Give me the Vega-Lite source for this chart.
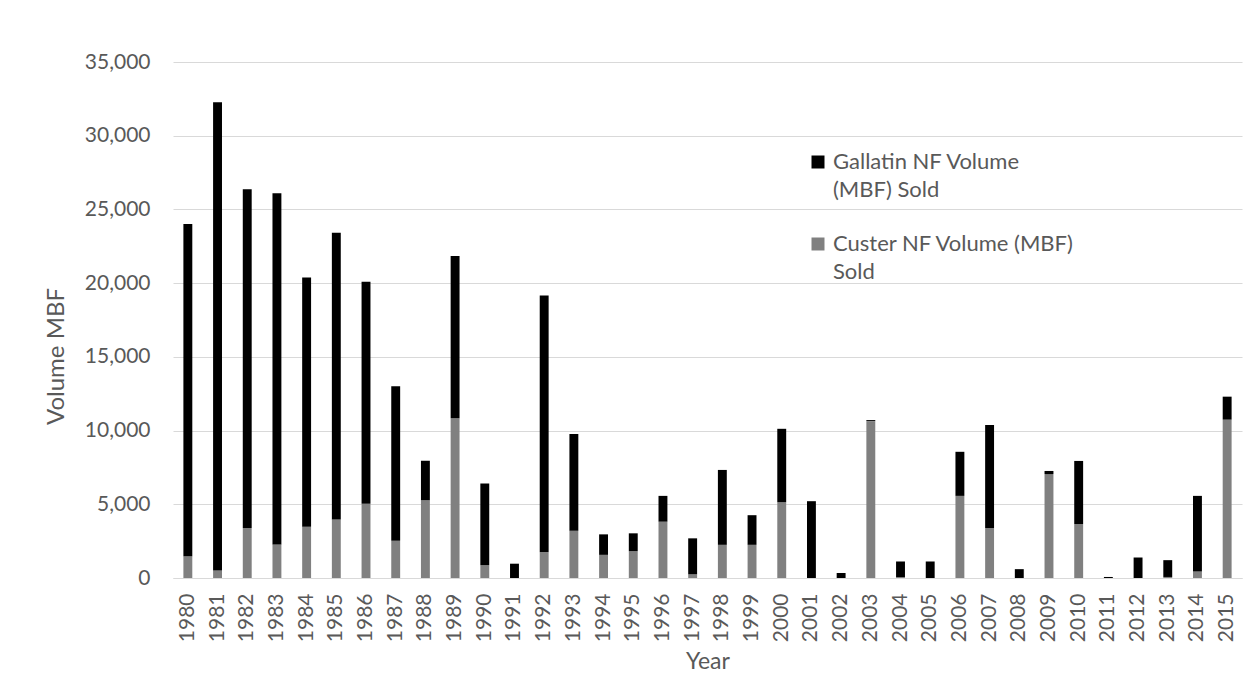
{
  "$schema": "https://vega.github.io/schema/vega-lite/v6.json",
  "autosize": "none",
  "width": 1069,
  "height": 516,
  "padding": {"left": 173, "top": 62, "right": 10, "bottom": 103},
  "background": "white",
  "config": {
    "view": {"stroke": null},
    "font": "Lato",
    "style": {"guide-label": {"lineHeight": 28}}
  },
  "data": {"values": [
    {"year": "1980", "series": "Custer NF Volume (MBF) Sold", "value": 1480},
    {"year": "1980", "series": "Gallatin NF Volume (MBF) Sold", "value": 22540},
    {"year": "1981", "series": "Custer NF Volume (MBF) Sold", "value": 510},
    {"year": "1981", "series": "Gallatin NF Volume (MBF) Sold", "value": 31760},
    {"year": "1982", "series": "Custer NF Volume (MBF) Sold", "value": 3390},
    {"year": "1982", "series": "Gallatin NF Volume (MBF) Sold", "value": 22980},
    {"year": "1983", "series": "Custer NF Volume (MBF) Sold", "value": 2280},
    {"year": "1983", "series": "Gallatin NF Volume (MBF) Sold", "value": 23820},
    {"year": "1984", "series": "Custer NF Volume (MBF) Sold", "value": 3480},
    {"year": "1984", "series": "Gallatin NF Volume (MBF) Sold", "value": 16910},
    {"year": "1985", "series": "Custer NF Volume (MBF) Sold", "value": 3970},
    {"year": "1985", "series": "Gallatin NF Volume (MBF) Sold", "value": 19440},
    {"year": "1986", "series": "Custer NF Volume (MBF) Sold", "value": 5030},
    {"year": "1986", "series": "Gallatin NF Volume (MBF) Sold", "value": 15070},
    {"year": "1987", "series": "Custer NF Volume (MBF) Sold", "value": 2520},
    {"year": "1987", "series": "Gallatin NF Volume (MBF) Sold", "value": 10490},
    {"year": "1988", "series": "Custer NF Volume (MBF) Sold", "value": 5270},
    {"year": "1988", "series": "Gallatin NF Volume (MBF) Sold", "value": 2690},
    {"year": "1989", "series": "Custer NF Volume (MBF) Sold", "value": 10840},
    {"year": "1989", "series": "Gallatin NF Volume (MBF) Sold", "value": 11000},
    {"year": "1990", "series": "Custer NF Volume (MBF) Sold", "value": 870},
    {"year": "1990", "series": "Gallatin NF Volume (MBF) Sold", "value": 5540},
    {"year": "1991", "series": "Custer NF Volume (MBF) Sold", "value": 0},
    {"year": "1991", "series": "Gallatin NF Volume (MBF) Sold", "value": 970},
    {"year": "1992", "series": "Custer NF Volume (MBF) Sold", "value": 1740},
    {"year": "1992", "series": "Gallatin NF Volume (MBF) Sold", "value": 17420},
    {"year": "1993", "series": "Custer NF Volume (MBF) Sold", "value": 3210},
    {"year": "1993", "series": "Gallatin NF Volume (MBF) Sold", "value": 6550},
    {"year": "1994", "series": "Custer NF Volume (MBF) Sold", "value": 1570},
    {"year": "1994", "series": "Gallatin NF Volume (MBF) Sold", "value": 1390},
    {"year": "1995", "series": "Custer NF Volume (MBF) Sold", "value": 1820},
    {"year": "1995", "series": "Gallatin NF Volume (MBF) Sold", "value": 1210},
    {"year": "1996", "series": "Custer NF Volume (MBF) Sold", "value": 3820},
    {"year": "1996", "series": "Gallatin NF Volume (MBF) Sold", "value": 1750},
    {"year": "1997", "series": "Custer NF Volume (MBF) Sold", "value": 250},
    {"year": "1997", "series": "Gallatin NF Volume (MBF) Sold", "value": 2440},
    {"year": "1998", "series": "Custer NF Volume (MBF) Sold", "value": 2250},
    {"year": "1998", "series": "Gallatin NF Volume (MBF) Sold", "value": 5080},
    {"year": "1999", "series": "Custer NF Volume (MBF) Sold", "value": 2250},
    {"year": "1999", "series": "Gallatin NF Volume (MBF) Sold", "value": 2010},
    {"year": "2000", "series": "Custer NF Volume (MBF) Sold", "value": 5140},
    {"year": "2000", "series": "Gallatin NF Volume (MBF) Sold", "value": 4980},
    {"year": "2001", "series": "Custer NF Volume (MBF) Sold", "value": 0},
    {"year": "2001", "series": "Gallatin NF Volume (MBF) Sold", "value": 5210},
    {"year": "2002", "series": "Custer NF Volume (MBF) Sold", "value": 0},
    {"year": "2002", "series": "Gallatin NF Volume (MBF) Sold", "value": 340},
    {"year": "2003", "series": "Custer NF Volume (MBF) Sold", "value": 10640},
    {"year": "2003", "series": "Gallatin NF Volume (MBF) Sold", "value": 70},
    {"year": "2004", "series": "Custer NF Volume (MBF) Sold", "value": 60},
    {"year": "2004", "series": "Gallatin NF Volume (MBF) Sold", "value": 1060},
    {"year": "2005", "series": "Custer NF Volume (MBF) Sold", "value": 0},
    {"year": "2005", "series": "Gallatin NF Volume (MBF) Sold", "value": 1120},
    {"year": "2006", "series": "Custer NF Volume (MBF) Sold", "value": 5570},
    {"year": "2006", "series": "Gallatin NF Volume (MBF) Sold", "value": 2990},
    {"year": "2007", "series": "Custer NF Volume (MBF) Sold", "value": 3390},
    {"year": "2007", "series": "Gallatin NF Volume (MBF) Sold", "value": 6980},
    {"year": "2008", "series": "Custer NF Volume (MBF) Sold", "value": 0},
    {"year": "2008", "series": "Gallatin NF Volume (MBF) Sold", "value": 600},
    {"year": "2009", "series": "Custer NF Volume (MBF) Sold", "value": 7050},
    {"year": "2009", "series": "Gallatin NF Volume (MBF) Sold", "value": 210},
    {"year": "2010", "series": "Custer NF Volume (MBF) Sold", "value": 3660},
    {"year": "2010", "series": "Gallatin NF Volume (MBF) Sold", "value": 4280},
    {"year": "2011", "series": "Custer NF Volume (MBF) Sold", "value": 0},
    {"year": "2011", "series": "Gallatin NF Volume (MBF) Sold", "value": 70},
    {"year": "2012", "series": "Custer NF Volume (MBF) Sold", "value": 0},
    {"year": "2012", "series": "Gallatin NF Volume (MBF) Sold", "value": 1390},
    {"year": "2013", "series": "Custer NF Volume (MBF) Sold", "value": 70},
    {"year": "2013", "series": "Gallatin NF Volume (MBF) Sold", "value": 1140},
    {"year": "2014", "series": "Custer NF Volume (MBF) Sold", "value": 440},
    {"year": "2014", "series": "Gallatin NF Volume (MBF) Sold", "value": 5130},
    {"year": "2015", "series": "Custer NF Volume (MBF) Sold", "value": 10740},
    {"year": "2015", "series": "Gallatin NF Volume (MBF) Sold", "value": 1560}
  ]},
  "mark": {"type": "bar"},
  "encoding": {
    "x": {
      "field": "year",
      "type": "ordinal",
      "title": "Year",
      "scale": {"paddingInner": 0.7, "paddingOuter": 0.35},
      "axis": {
        "labelAngle": 270,
        "labelAlign": "right",
        "labelBaseline": "middle",
        "labelPadding": 15,
        "labelFontSize": 21,
        "labelColor": "#595959",
        "labelFont": "Lato",
        "ticks": false,
        "domainColor": "#d9d9d9",
        "domainWidth": 1,
        "titleFontSize": 23,
        "titleFontWeight": "normal",
        "titleColor": "#595959",
        "titleFont": "Lato",
        "titlePadding": 9
      }
    },
    "y": {
      "field": "value",
      "type": "quantitative",
      "stack": "zero",
      "title": "Volume MBF",
      "scale": {"domain": [0, 35000], "nice": false},
      "axis": {
        "values": [0, 5000, 10000, 15000, 20000, 25000, 30000, 35000],
        "format": ",.0f",
        "domain": false,
        "ticks": false,
        "labelPadding": 23,
        "labelFontSize": 21,
        "labelColor": "#595959",
        "labelFont": "Lato",
        "gridColor": "#d9d9d9",
        "gridWidth": 1,
        "titleFontSize": 24,
        "titleFontWeight": "normal",
        "titleColor": "#595959",
        "titleFont": "Lato",
        "titleAngle": 270,
        "titleAlign": "center",
        "titleBaseline": "middle",
        "titleX": -117,
        "titleY": 294
      }
    },
    "color": {
      "field": "series",
      "type": "nominal",
      "scale": {
        "domain": ["Gallatin NF Volume (MBF) Sold", "Custer NF Volume (MBF) Sold"],
        "range": ["#000000", "#808080"]
      },
      "legend": {
        "title": null,
        "orient": "none",
        "legendX": 634,
        "legendY": 89,
        "padding": 0,
        "symbolType": "square",
        "symbolSize": 169,
        "symbolStrokeWidth": 0,
        "labelFontSize": 22,
        "labelFont": "Lato",
        "labelColor": "#595959",
        "labelOffset": 4,
        "labelLimit": 400,
        "labelBaseline": "middle",
        "rowPadding": 32,
        "labelExpr": "indexof(datum.label, 'Gallatin') >= 0 ? ['Gallatin NF Volume', '(MBF) Sold'] : ['Custer NF Volume (MBF)', 'Sold']"
      }
    },
    "order": {"field": "series", "sort": "ascending"}
  }
}
